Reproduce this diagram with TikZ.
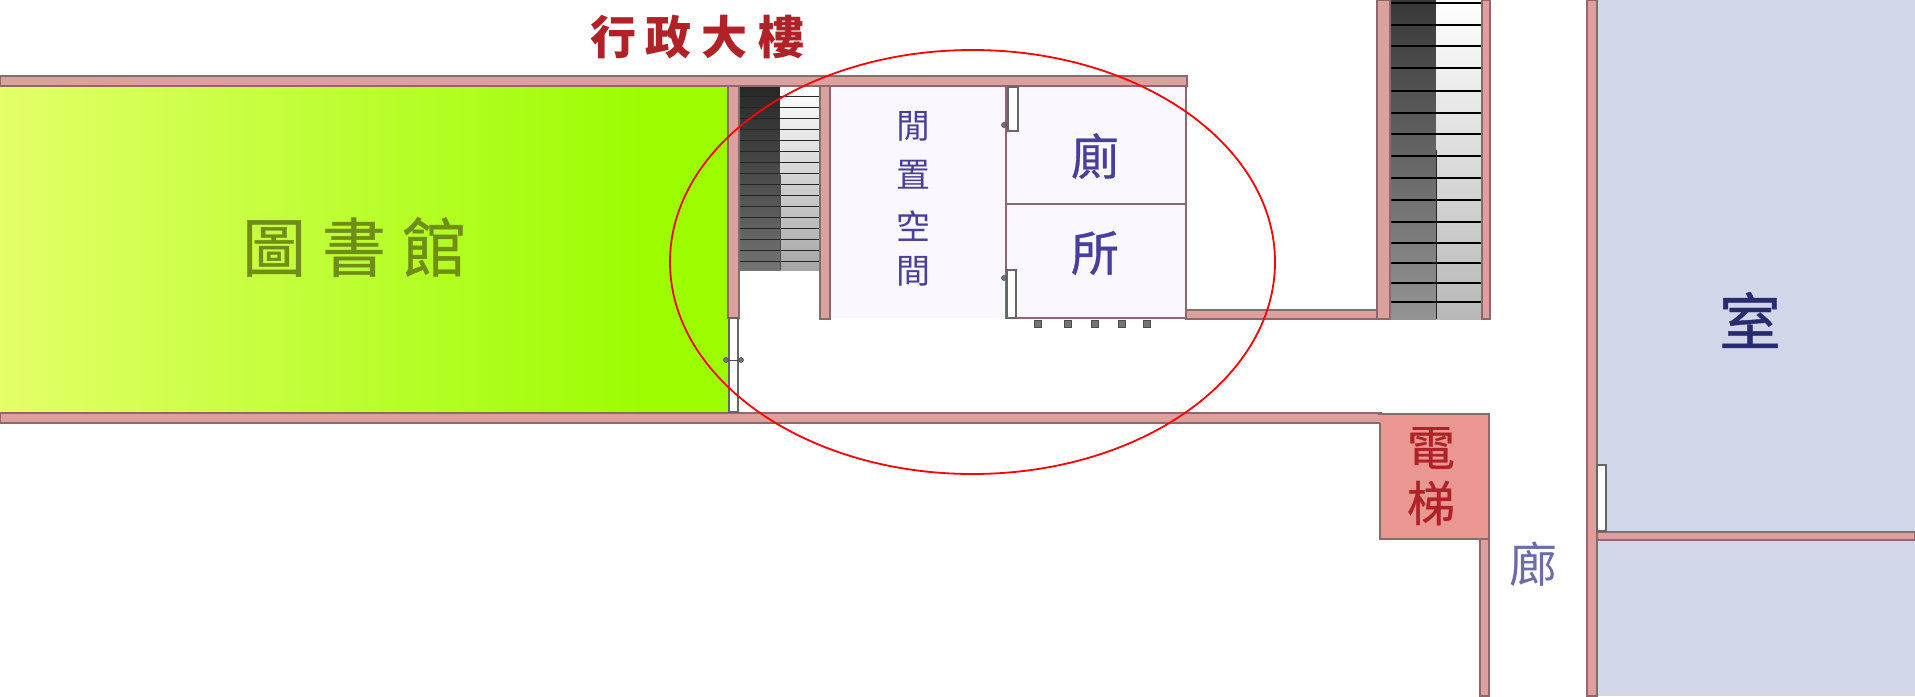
\documentclass[tikz,border=0pt]{standalone}
\usepackage{fontspec}
\newfontfamily\cjk{Noto Sans CJK TC}
\newfontfamily\cjkmed[FakeBold=0.7]{Noto Sans CJK TC}
\definecolor{wallpink}{RGB}{222,160,156}
\definecolor{wallline}{RGB}{140,105,110}
\definecolor{roomblue}{RGB}{209,214,233}
\definecolor{roomlilac}{RGB}{251,247,254}
\definecolor{liftpink}{RGB}{234,150,145}
\definecolor{libyellow}{RGB}{228,255,105}
\definecolor{libgreen}{RGB}{155,253,0}
\definecolor{textred}{RGB}{176,34,40}
\definecolor{textgreen}{RGB}{112,142,22}
\definecolor{textpurple}{RGB}{72,62,158}
\definecolor{textnavy}{RGB}{38,44,110}
\definecolor{textslate}{RGB}{108,108,170}
\tikzset{
  wall/.style={fill=wallpink,draw=wallline,line width=0.6pt},
  doorleaf/.style={fill=white,draw=black!60,line width=0.6pt},
  knob/.style={fill=black!55,draw=black!70,line width=0.3pt,minimum size=2.5pt,inner sep=0pt},
  roomtext/.style={font=\cjkmed\fontsize{#1}{#1}\selectfont,inner sep=0pt},
  thintext/.style={font=\cjk\fontsize{#1}{#1}\selectfont,inner sep=0pt}
}
\begin{document}
\begin{tikzpicture}[x=0.5pt,y=-0.5pt]
\useasboundingbox (0,0) rectangle (1915,696);
\fill[white] (0,0) rectangle (1915,696);
% Salas de colores
\shade[left color=libyellow,right color=libgreen] (0,85) rectangle (650,413);
\fill[libgreen] (649,85) rectangle (728,413);
\fill[roomblue] (1597,0) rectangle (1915,696);
\fill[roomlilac] (830,85) rectangle (1186,318);
% Escalera del centro
\shade[top color=black!85,bottom color=black!55] (738,85) rectangle (780,270);
\shade[top color=white,bottom color=black!35] (780,85) rectangle (820,270);
\foreach \y in {96,107,118,129,140,151,162,173,184,195,206,217,228,239,250,261}
  \draw[black!85,line width=0.5pt] (738,\y) -- (820,\y);
\draw[black!70,line width=0.4pt] (780,175) -- (780,270);
% Escalera de la derecha
\shade[top color=black!78,bottom color=black!42] (1390,0) rectangle (1436,319);
\shade[top color=white,bottom color=black!28] (1436,0) rectangle (1482,319);
\foreach \y in {3,25,46,68,91,113,134,156,178,200,222,243,263,283,302}
  \draw[black,line width=1.1pt] (1390,\y) -- (1482,\y);
\draw[black!85,line width=0.4pt] (1436,150) -- (1436,319);
% Muros
\draw[wall] (728,84) rectangle (739,318);
\draw[wall] (820,84) rectangle (830,319);
\draw[wall] (0,76) rectangle (1187,86);
\draw[wall] (1186,310) rectangle (1380,319);
\draw[wall] (1377,0) rectangle (1390,319);
\draw[wall] (1482,0) rectangle (1490,319);
\draw[wall] (0,413) rectangle (1381,423);
\draw[wall] (1587,0) rectangle (1597,696);
\draw[wall] (1597,532) rectangle (1915,540);
\draw[wall] (1480,530) rectangle (1489,696);
\fill[liftpink] (1380,414) rectangle (1489,539);
\draw[wallline,line width=0.7pt] (1378,414) -- (1489,414) -- (1489,539) -- (1380,539) -- (1380,423);
% Paredes del bano
\draw[wallline,line width=0.7pt] (1006,86) -- (1006,318) -- (1186,318) -- (1186,86);
\draw[wallline,line width=0.8pt] (1006,204) -- (1186,204);
% Puertas
\draw[doorleaf] (1008,87) rectangle (1018,131);
\draw[doorleaf] (1007,270) rectangle (1016,318);
\draw[doorleaf] (729,318) rectangle (738,412);
\draw[doorleaf] (1597,465) rectangle (1606,531);
\draw[black!70,line width=0.5pt] (726,360) -- (741,360);
\node[knob,circle] (doorKnobA) at (1004,125) {};
\node[knob,circle] (doorKnobB) at (1004,278) {};
\node[knob,circle] (doorKnobC) at (726,360) {};
\node[knob,circle] (doorKnobD) at (741,360) {};
\foreach \x/\n in {1038/a,1068/b,1095/c,1122/d,1147/e}
  \node[knob,rectangle,minimum size=3.5pt] (post\n) at (\x,324) {};
% Textos
\node[inner sep=0pt,font=\cjk\bfseries\fontsize{23}{23}\selectfont,textred] (adminLabel) at (697,37) {行\hspace{5pt}政\hspace{5pt}大\hspace{5pt}樓};
\node[roomtext=32,textgreen] (libraryLabel) at (354,247) {圖\hspace{8pt}書\hspace{8pt}館};
\node[thintext=17,textpurple] (idleA) at (913,126) {閒};
\node[thintext=17,textpurple] (idleB) at (913,175) {置};
\node[thintext=17,textpurple] (idleC) at (913,226) {空};
\node[thintext=17,textpurple] (idleD) at (913,271) {間};
\node[roomtext=24,textpurple] (toiletA) at (1095,156) {廁};
\node[roomtext=24,textpurple] (toiletB) at (1095,253) {所};
\node[roomtext=31,textnavy] (roomLabel) at (1750,320) {室};
\node[roomtext=24,textred] (liftA) at (1431,448) {電};
\node[roomtext=24,textred] (liftB) at (1431,503) {梯};
\node[thintext=24,textslate] (hallLabel) at (1533,564) {廊};
% Circulo rojo
\draw[red,line width=0.9pt] (972.5,262) ellipse [x radius=302.5,y radius=212];
\end{tikzpicture}
\end{document}
